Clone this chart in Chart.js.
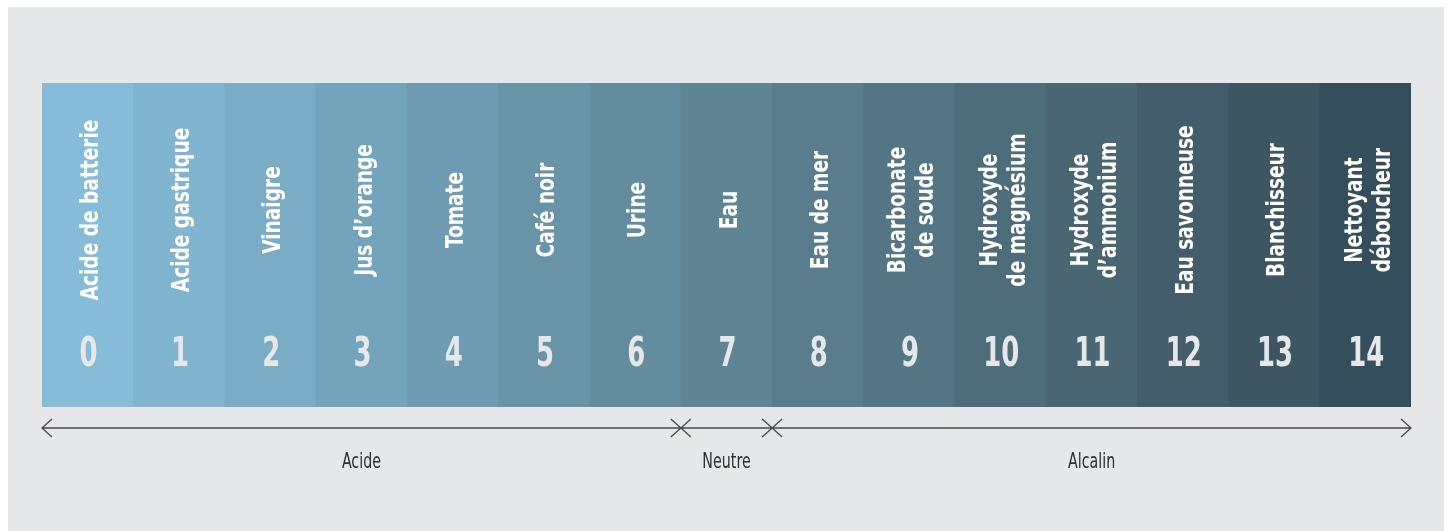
<!DOCTYPE html>
<html><head><meta charset="utf-8">
<script src="https://cdn.jsdelivr.net/npm/chart.js@4"></script>
<style>html,body{margin:0;padding:0;background:#fff}#w{width:1451px;height:531px}</style>
</head><body><div id="w"><canvas id="c"></canvas></div>
<script>
const phValues = [0,1,2,3,4,5,6,7,8,9,10,11,12,13,14];
const substances = [
  ["Acide de batterie"],["Acide gastrique"],["Vinaigre"],["Jus d’orange"],["Tomate"],["Café noir"],["Urine"],["Eau"],
  ["Eau de mer"],["Bicarbonate","de soude"],["Hydroxyde","de magnésium"],["Hydroxyde","d’ammonium"],["Eau savonneuse"],["Blanchisseur"],["Nettoyant","déboucheur"]
];
const barHeights = [1,1,1,1,1,1,1,1,1,1,1,1,1,1,1];
const colors = ["#86bcd8","#80b4cf","#7aacc5","#74a4bb","#6f9cb2","#6994a8","#648c9f","#5f8595","#597d8c","#547583","#4e6d7b","#496672","#435e6a","#3d5662","#344f5b"];
const zoneNames = ["Acide","Neutre","Alcalin"];
const zoneRanges = [[0,6],[7,7],[8,14]];

const FONT = '"DejaVu Sans Condensed", "Liberation Sans", sans-serif';

const deco = {
  id:'deco',
  beforeDraw(chart){
    const ctx = chart.ctx;
    ctx.save();
    ctx.fillStyle = '#e6e7e9';
    ctx.fillRect(8,7,1436,524);
    ctx.restore();
  },
  afterDatasetsDraw(chart){
    const ctx = chart.ctx, xs = chart.scales.x;
    const step = xs.getPixelForValue(1) - xs.getPixelForValue(0);
    ctx.save();
    ctx.textAlign = 'center';
    ctx.textBaseline = 'middle';
    // substance names
    ctx.fillStyle = '#ffffff';
    ctx.font = 'bold 24px ' + FONT;
    substances.forEach((lines,i)=>{
      const cx = xs.getPixelForValue(i) + 3;
      const n = lines.length, lh = 28;
      lines.forEach((t,j)=>{
        const x = cx + (j - (n-1)/2)*lh;
        ctx.save();
        ctx.translate(x, 210);
        ctx.rotate(-Math.PI/2);
        ctx.scale(0.86,1);
        ctx.fillText(t,0,1);
        ctx.restore();
      });
    });
    // pH numbers
    ctx.fillStyle = '#e6e7e9';
    ctx.font = 'bold 40px ' + FONT;
    phValues.forEach((v,i)=>{
      ctx.save();
      ctx.translate(xs.getPixelForValue(i)+1, 356);
      ctx.scale(0.72,1);
      ctx.fillText(String(v),0,0);
      ctx.restore();
    });
    // arrows
    const yA = 428;
    ctx.strokeStyle = '#4a4a4a';
    ctx.lineWidth = 1.3;
    ctx.fillStyle = '#2f2f2f';
    ctx.font = '22px ' + FONT;
    zoneRanges.forEach((r,k)=>{
      const x1 = xs.getPixelForValue(r[0]) - step/2;
      const x2 = xs.getPixelForValue(r[1]) + step/2;
      ctx.beginPath();
      ctx.moveTo(x1,yA); ctx.lineTo(x2,yA);
      ctx.moveTo(x1+10,yA-9); ctx.lineTo(x1,yA); ctx.lineTo(x1+10,yA+9);
      ctx.moveTo(x2-10,yA-9); ctx.lineTo(x2,yA); ctx.lineTo(x2-10,yA+9);
      ctx.stroke();
      ctx.save();
      ctx.translate((x1+x2)/2, 462);
      ctx.scale(0.72,1);
      ctx.fillText(zoneNames[k],0,0);
      ctx.restore();
    });
    ctx.restore();
  }
};

new Chart(document.getElementById('c'),{
  type:'bar',
  data:{labels:phValues.map(String),datasets:[{data:barHeights,backgroundColor:colors,borderWidth:0,barPercentage:1,categoryPercentage:1}]},
  options:{
    responsive:true,maintainAspectRatio:false,animation:false,
    layout:{padding:{left:42,right:40,top:83,bottom:124}},
    plugins:{legend:{display:false},tooltip:{enabled:false}},
    scales:{x:{display:false,offset:true},y:{display:false,min:0,max:1}}
  },
  plugins:[deco]
});
</script></body></html>
